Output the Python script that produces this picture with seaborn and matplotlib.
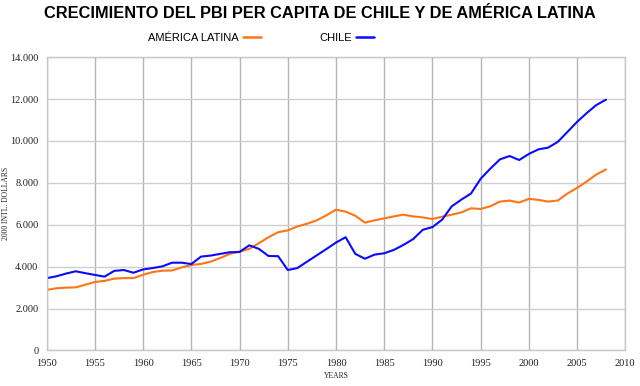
import matplotlib
matplotlib.use('Agg')
import matplotlib.pyplot as plt
import matplotlib.ticker as ticker
import pandas as pd
import seaborn as sns

years = list(range(1950, 2009))

chile = [3450, 3540, 3670, 3780, 3690, 3605, 3525, 3800, 3840, 3710,
         3870, 3935, 4015, 4190, 4190, 4125, 4480, 4530, 4610, 4690,
         4700, 5020, 4850, 4510, 4500, 3840, 3935, 4240, 4540, 4840,
         5150, 5405, 4610, 4380, 4575, 4640, 4800, 5040, 5315, 5760,
         5890, 6240, 6880, 7200, 7490, 8195, 8675, 9120, 9280, 9090,
         9380, 9600, 9680, 9955, 10430, 10910, 11330, 11715, 11970]

america_latina = [2890, 2970, 3000, 3010, 3140, 3270, 3320, 3430, 3455, 3455,
                  3615, 3745, 3807, 3820, 3965, 4080, 4130, 4240, 4415, 4610,
                  4720, 4850, 5120, 5405, 5645, 5730, 5920, 6050, 6210, 6450,
                  6720, 6625, 6430, 6100, 6210, 6305, 6400, 6480, 6400, 6350,
                  6275, 6385, 6480, 6590, 6785, 6755, 6880, 7105, 7155, 7060,
                  7235, 7190, 7105, 7155, 7490, 7760, 8065, 8400, 8640]

series_names = ['AMÉRICA LATINA', 'CHILE']
colors = ['#ff7414', '#0a0aff']

df = pd.DataFrame({
    'year': years * 2,
    'value': america_latina + chile,
    'serie': [series_names[0]] * len(years) + [series_names[1]] * len(years),
})

sns.set_style('white')
sans = ['Liberation Sans', 'DejaVu Sans']
serif = ['Liberation Serif', 'DejaVu Serif']

fig = plt.figure(figsize=(6.4, 3.86), dpi=100)
ax = fig.add_axes([0.073, 0.092, 0.904, 0.76])

sns.lineplot(data=df, x='year', y='value', hue='serie', hue_order=series_names,
             palette=colors, linewidth=1.5, ax=ax, legend=False)

ax.set_xlim(1950, 2010)
ax.set_ylim(0, 14000)
ax.xaxis.set_major_locator(ticker.MultipleLocator(5))
ax.yaxis.set_major_locator(ticker.MultipleLocator(2000))
ax.yaxis.set_major_formatter(ticker.FuncFormatter(lambda v, p: f"{int(v):,}".replace(',', '.')))

ax.grid(axis='x', color='#b4b4b4', linewidth=1)
ax.grid(axis='y', color='#cfcfcf', linewidth=1)
ax.set_axisbelow(True)
for s in ax.spines.values():
    s.set_color('#c8c8c8')
    s.set_linewidth(1)
ax.tick_params(axis='both', length=4, width=1, color='#b4b4b4', pad=2,
               labelsize=7.5, labelcolor='#222222')
for lab in ax.get_xticklabels() + ax.get_yticklabels():
    lab.set_family(serif)

ax.set_xlabel('YEARS', fontsize=5.5, family=serif, color='#222222', labelpad=3)
ax.set_ylabel('2000 INTL. DOLLARS', fontsize=5.5, family=serif, color='#222222')
ax.yaxis.set_label_coords(-0.063, 0.5)

fig.suptitle('CRECIMIENTO DEL PBI PER CAPITA DE CHILE Y DE AMÉRICA LATINA',
             x=0.5, y=0.985, fontsize=11.8, fontweight='bold', family=sans, color='black')

handles = [plt.Line2D([], [], color=c, linewidth=1.8) for c in colors]
leg = fig.legend(handles, series_names, loc='center', bbox_to_anchor=(0.408, 0.902),
                 ncol=2, frameon=False, markerfirst=False, handlelength=1.6,
                 handletextpad=0.4, columnspacing=5.2, prop={'family': sans, 'size': 8})
for t in leg.get_texts():
    t.set_color('black')

fig.savefig('out.png', dpi=100)
